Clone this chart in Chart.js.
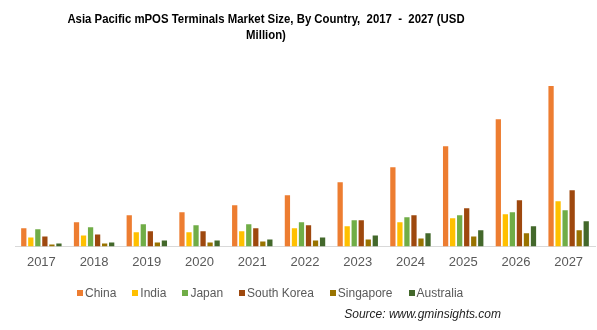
<!DOCTYPE html>
<html>
<head>
<meta charset="utf-8">
<script src="https://cdn.jsdelivr.net/npm/chart.js@4/dist/chart.umd.min.js"></script>
<style>
  html, body { margin: 0; padding: 0; background: #fff; }
  #wrap { position: relative; width: 597px; height: 330px; font-family: "Liberation Sans", Arial, sans-serif; }
  #title { position: absolute; left: 265.5px; top: 11px; transform: translateX(-50%) scaleX(0.875); white-space: nowrap; text-align: center; font-weight: bold; font-size: 13px; line-height: 16px; color: #000; }
  #legend { position: absolute; left: 77px; top: 286px; white-space: nowrap; font-size: 12px; line-height: 14px; color: #595959; }
  #legend span.item { display: inline-block; margin-right: 16px; }
  #legend span.box { display: inline-block; width: 6px; height: 6px; margin-right: 2px; vertical-align: 1px; }
  #source { position: absolute; right: 96px; top: 307px; font: italic 12px "Liberation Sans", Arial, sans-serif; color: #222; }
</style>
</head>
<body>
<div id="wrap">
  <canvas id="chart" width="597" height="330"></canvas>
  <div id="title">Asia Pacific mPOS Terminals Market Size, By Country,&nbsp; 2017&nbsp; -&nbsp; 2027 (USD<br>Million)</div>
  <div id="legend"></div>
  <div id="source">Source: www.gminsights.com</div>
</div>
<script>
// Năm và giá trị (ước lượng từ hình)
var years = ['2017', '2018', '2019', '2020', '2021', '2022', '2023', '2024', '2025', '2026', '2027'];
var china = [18, 24, 31, 34, 41, 51, 64, 79, 100, 127, 160];
var india = [9, 11, 14, 14, 15, 18, 20, 24, 28, 32, 45];
var japan = [17, 19, 22, 21, 22, 24, 26, 29, 31, 34, 36];
var southKorea = [10, 12, 15, 15, 18, 21, 26, 31, 38, 46, 56];
var singapore = [2, 3, 4, 4, 5, 6, 7, 8, 10, 13, 16];
var australia = [3, 4, 6, 6, 7, 9, 11, 13, 16, 20, 25];

var fontFamily = '"Liberation Sans", Arial, sans-serif';

function ds(label, data, color) {
    return {
        label: label,
        data: data,
        backgroundColor: color,
        borderWidth: 0,
        categoryPercentage: 0.8,
        barPercentage: 0.75
    };
}

var chart = new Chart(document.getElementById('chart'), {
    type: 'bar',
    data: {
        labels: years,
        datasets: [
            ds('China', china, '#ED7D31'),
            ds('India', india, '#FFC000'),
            ds('Japan', japan, '#70AD47'),
            ds('South Korea', southKorea, '#9E480E'),
            ds('Singapore', singapore, '#997300'),
            ds('Australia', australia, '#43682B')
        ]
    },
    options: {
        responsive: false,
        animation: false,
        layout: {padding: {left: 15, right: 2, top: 50, bottom: 52}},
        plugins: {
            legend: {display: false},
            tooltip: {enabled: false}
        },
        scales: {
            x: {
                grid: {display: false, drawTicks: false},
                border: {color: '#d9d9d9', width: 1},
                ticks: {color: '#595959', font: {family: fontFamily, size: 13}, padding: 8}
            },
            y: {
                display: false,
                min: 0,
                max: 196
            }
        }
    }
});

// Chú thích dạng HTML
var legendHtml = '';
chart.data.datasets.forEach(function (d) {
    legendHtml += '<span class="item"><span class="box" style="background:' + d.backgroundColor + '"></span>' + d.label + '</span>';
});
document.getElementById('legend').innerHTML = legendHtml;
</script>
</body>
</html>
